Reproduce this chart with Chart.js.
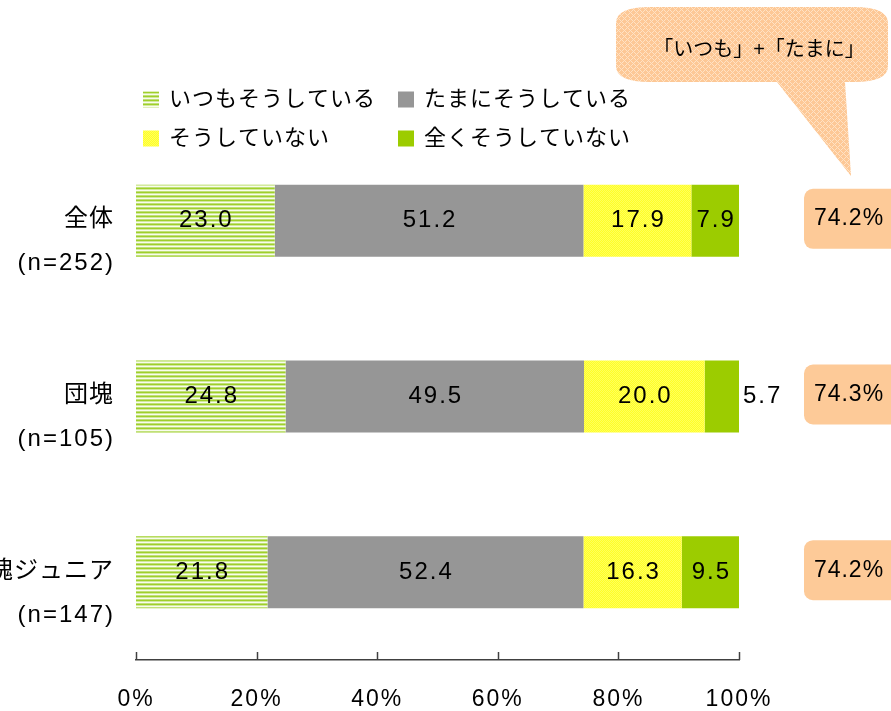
<!DOCTYPE html>
<html lang="ja">
<head>
<meta charset="UTF-8">
<title>いつもそうしている / たまにそうしている</title>
<script src="https://cdn.jsdelivr.net/npm/chart.js@4"></script>
<style>
  html, body { margin: 0; padding: 0; background: #fff; }
  canvas { display: block; }
</style>
</head>
<body>
<canvas id="chart" width="891" height="711"></canvas>
<script>
  const categories = ["全体", "団塊", "団塊ジュニア"];
  const sampleSizes = ["(n=252)", "(n=105)", "(n=147)"];
  const seriesNames = ["いつもそうしている", "たまにそうしている", "そうしていない", "全くそうしていない"];
  const itsumo = [23.0, 24.8, 21.8];
  const tamani = [51.2, 49.5, 52.4];
  const shiteinai = [17.9, 20.0, 16.3];
  const mattaku = [7.9, 5.7, 9.5];
  const xTicks = [0, 20, 40, 60, 80, 100];
  const calloutText = "「いつも」+「たまに」";

  const FONT = "'Liberation Sans', 'Noto Sans CJK JP', sans-serif";

  // small tiled fills
  function makePattern(w, h, paint) {
    const c = document.createElement("canvas");
    c.width = w; c.height = h;
    const g = c.getContext("2d");
    paint(g);
    return g.createPattern(c, "repeat");
  }
  const stripeFill = makePattern(1, 4, g => {
    ["#9fcf2a", "#d2ea9c", "#f8fcec", "#c0e078"].forEach((col, i) => {
      g.fillStyle = col; g.fillRect(0, i, 1, 1);
    });
  });
  const yellowFill = makePattern(2, 2, g => {
    g.fillStyle = "#ffff26"; g.fillRect(0, 0, 2, 2);
    g.fillStyle = "#ffff5c"; g.fillRect(0, 0, 1, 1); g.fillRect(1, 1, 1, 1);
  });
  const bubbleFill = makePattern(6, 6, g => {
    g.fillStyle = "#fdc896"; g.fillRect(0, 0, 6, 6);
    g.fillStyle = "#ffe2c4";
    for (let i = 0; i < 6; i++) for (let j = 0; j < 6; j++) {
      if ((i + j) % 6 === 0 || (i - j + 6) % 6 === 0) g.fillRect(i, j, 1, 1);
    }
  });

  const decor = {
    id: "decor",
    beforeDraw(chart) {
      const ctx = chart.ctx;
      ctx.fillStyle = "#fff";
      ctx.fillRect(0, 0, chart.width, chart.height);
      ctx.letterSpacing = "2px";   // x tick labels are drawn with this
    },
    afterDatasetsDraw(chart) {
      const ctx = chart.ctx;
      ctx.save();
      ctx.letterSpacing = "2px";
      ctx.font = "24px " + FONT;
      ctx.fillStyle = "#000";
      ctx.textBaseline = "middle";
      chart.data.datasets.forEach((ds, d) => {
        chart.getDatasetMeta(d).data.forEach((bar, i) => {
          const p = bar.getProps(["x", "y", "base"], true);
          const txt = ds.data[i].toFixed(1);
          if (Math.abs(p.x - p.base) < 40) {
            ctx.textAlign = "left";
            ctx.fillText(txt, p.x + 4, p.y);
          } else {
            ctx.textAlign = "center";
            ctx.fillText(txt, (p.x + p.base) / 2 + 1, p.y);
          }
        });
      });
      ctx.restore();
    },
    afterDraw(chart) {
      const ctx = chart.ctx;
      const xs = chart.scales.x, ys = chart.scales.y;
      ctx.save();

      // tick marks pointing up from the axis
      ctx.strokeStyle = "#404040";
      ctx.lineWidth = 1.5;
      xs.ticks.forEach((t, i) => {
        const px = Math.round(xs.getPixelForTick(i)) + 0.5;
        ctx.beginPath();
        ctx.moveTo(px, xs.top);
        ctx.lineTo(px, xs.top - 8);
        ctx.stroke();
      });

      // category labels
      ctx.fillStyle = "#000";
      ctx.font = "24px " + FONT;
      ctx.textAlign = "right";
      ctx.textBaseline = "middle";
      categories.forEach((c, i) => {
        const py = ys.getPixelForValue(i);
        ctx.letterSpacing = "1px";
        ctx.fillText(c, 114, py - 1);
        ctx.letterSpacing = "2px";
        ctx.fillText(sampleSizes[i], 115, py + 43);
      });

      // legend (2 x 2)
      const cols = [143, 398], rows = [99.5, 138.5];
      ctx.letterSpacing = "1px";
      ctx.font = "22px " + FONT;
      ctx.textAlign = "left";
      chart.data.datasets.forEach((ds, d) => {
        const bx = cols[d % 2], by = rows[Math.floor(d / 2)];
        ctx.fillStyle = ds.backgroundColor;
        ctx.fillRect(bx, by - 8, 16, 16);
        ctx.fillStyle = "#000";
        ctx.fillText(ds.label, bx + 26, by);
      });

      // "いつも" + "たまに" totals
      ctx.font = "23px " + FONT;
      ctx.textAlign = "center";
      categories.forEach((c, i) => {
        const py = ys.getPixelForValue(i) - 2;
        const total = itsumo[i] + tamani[i];
        ctx.fillStyle = "#fdca98";
        ctx.beginPath();
        ctx.roundRect(804, py - 30, 100, 60, 9);
        ctx.fill();
        ctx.fillStyle = "#000";
        ctx.fillText(total.toFixed(1) + "%", 849, py);
      });

      // callout bubble
      const bx = 616, by = 7, bw = 272, bh = 75, rx = 34, ry = 16;
      ctx.fillStyle = bubbleFill;
      ctx.beginPath();
      ctx.moveTo(bx + rx, by);
      ctx.lineTo(bx + bw - rx, by);
      ctx.quadraticCurveTo(bx + bw, by, bx + bw, by + ry);
      ctx.lineTo(bx + bw, by + bh - ry);
      ctx.quadraticCurveTo(bx + bw, by + bh, bx + bw - rx, by + bh);
      ctx.lineTo(845, by + bh);
      ctx.lineTo(851, 176);
      ctx.lineTo(777, by + bh);
      ctx.lineTo(bx + rx, by + bh);
      ctx.quadraticCurveTo(bx, by + bh, bx, by + bh - ry);
      ctx.lineTo(bx, by + ry);
      ctx.quadraticCurveTo(bx, by, bx + rx, by);
      ctx.closePath();
      ctx.fill();
      ctx.fillStyle = "#000";
      ctx.letterSpacing = "0px";
      ctx.font = "20px " + FONT;
      ctx.fillText(calloutText, 759, 50);

      ctx.restore();
    }
  };

  new Chart(document.getElementById("chart"), {
    type: "bar",
    data: {
      labels: categories,
      datasets: [
        { label: seriesNames[0], data: itsumo, backgroundColor: stripeFill },
        { label: seriesNames[1], data: tamani, backgroundColor: "#969696" },
        { label: seriesNames[2], data: shiteinai, backgroundColor: yellowFill },
        { label: seriesNames[3], data: mattaku, backgroundColor: "#9ccc00" }
      ]
    },
    options: {
      indexAxis: "y",
      responsive: false,
      animation: false,
      layout: { padding: { left: 136, right: 152, top: 133, bottom: 0 } },
      datasets: { bar: { barPercentage: 0.41, categoryPercentage: 1, borderWidth: 0 } },
      plugins: { legend: { display: false }, tooltip: { enabled: false } },
      scales: {
        x: {
          stacked: true,
          min: 0,
          max: 100,
          afterBuildTicks: s => { s.ticks = xTicks.map(v => ({ value: v })); },
          afterFit: s => { s.height = 51; },
          grid: { display: false, drawTicks: false },
          border: { display: true, color: "#404040", width: 1.5 },
          ticks: {
            callback: v => v + "%",
            font: { family: FONT, size: 23 },
            color: "#000",
            padding: 26,
            maxRotation: 0,
            autoSkip: false
          }
        },
        y: { stacked: true, display: false }
      }
    },
    plugins: [decor]
  });
</script>
</body>
</html>
